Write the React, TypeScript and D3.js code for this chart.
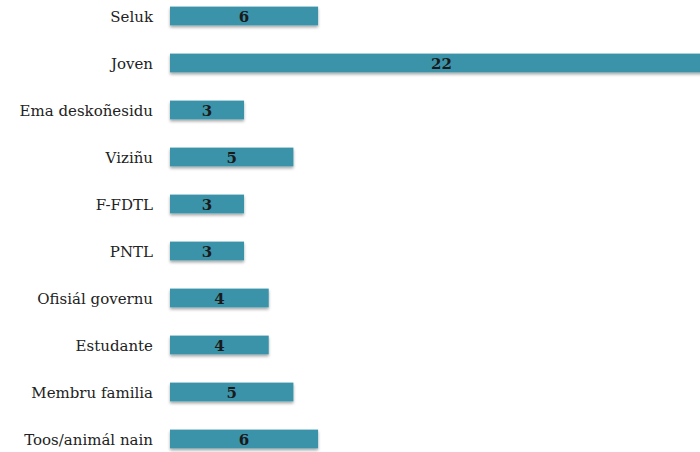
import React, { useEffect, useRef } from 'react';
import * as d3 from 'd3';

const categories = [
  'Seluk',
  'Joven',
  'Ema deskoñesidu',
  'Viziñu',
  'F-FDTL',
  'PNTL',
  'Ofisiál governu',
  'Estudante',
  'Membru familia',
  'Toos/animál nain',
];
const values = [6, 22, 3, 5, 3, 3, 4, 4, 5, 6];

const W = 700;
const H = 452;
const BAR_COLOR = '#3a93a9';
const FONT = '"DejaVu Serif", "Liberation Serif", serif';

export default function App() {
  const svgRef = useRef<SVGSVGElement>(null);

  useEffect(() => {
    if (!svgRef.current) return;
    const svg = d3.select(svgRef.current);
    svg.selectAll('*').remove();

    // shadow under the bars
    const defs = svg.append('defs');
    const f = defs.append('filter').attr('id', 'shadow')
      .attr('x', '-5%').attr('y', '-30%').attr('width', '110%').attr('height', '180%');
    f.append('feDropShadow')
      .attr('dx', 0).attr('dy', 2).attr('stdDeviation', 1.5)
      .attr('flood-color', '#000').attr('flood-opacity', 0.35);

    const x = d3.scaleLinear().domain([0, 22]).range([170, 713]);
    const y = d3.scaleBand<string>()
      .domain(categories)
      .range([-7.5, 462.5])
      .paddingInner(0.6)
      .paddingOuter(0.3);

    const g = svg.append('g');

    g.selectAll('rect.bar')
      .data(categories)
      .join('rect')
      .attr('class', 'bar')
      .attr('x', x(0))
      .attr('y', d => y(d)!)
      .attr('width', (d, i) => x(values[i]) - x(0))
      .attr('height', y.bandwidth())
      .attr('fill', BAR_COLOR)
      .attr('filter', 'url(#shadow)');

    g.selectAll('text.val')
      .data(categories)
      .join('text')
      .attr('class', 'val')
      .attr('x', (d, i) => (x(0) + x(values[i])) / 2)
      .attr('y', d => y(d)! + y.bandwidth() / 2 + 1)
      .attr('dy', '0.35em')
      .attr('text-anchor', 'middle')
      .attr('font-family', FONT)
      .attr('font-weight', 'bold')
      .attr('font-size', '15px')
      .attr('fill', '#1a1a1a')
      .text((d, i) => String(values[i]));

    g.selectAll('text.cat')
      .data(categories)
      .join('text')
      .attr('class', 'cat')
      .attr('x', 153)
      .attr('y', d => y(d)! + y.bandwidth() / 2 + 1)
      .attr('dy', '0.35em')
      .attr('text-anchor', 'end')
      .attr('font-family', FONT)
      .attr('font-size', '15px')
      .attr('fill', '#222')
      .text(d => d);
  }, []);

  return (
    <svg
      ref={svgRef}
      width={W}
      height={H}
      style={{ position: 'absolute', left: 0, top: 0, display: 'block', background: '#fff' }}
    />
  );
}
